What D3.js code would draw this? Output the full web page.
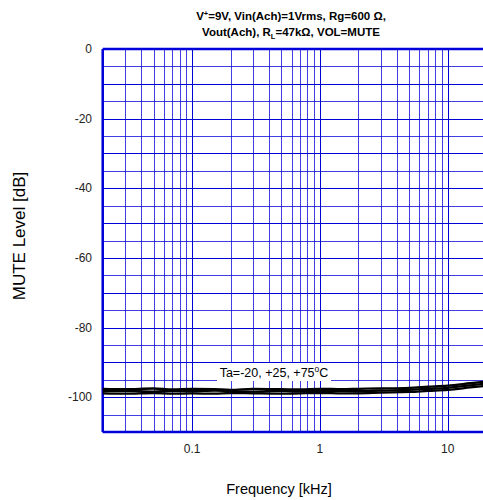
<!DOCTYPE html>
<html><head><meta charset="utf-8">
<script src="https://cdn.jsdelivr.net/npm/d3@7"></script>
<style>body{margin:0;background:#fff;} svg{display:block;font-family:"Liberation Sans",Arial,sans-serif;}</style>
</head><body>
<svg id="c" width="483" height="500"></svg>
<script>
const freqs = [0.02,0.03,0.05,0.07,0.1,0.15,0.2,0.3,0.5,0.7,1,1.5,2,3,5,7,10,15,20];
const seriesTop = [-97.6,-97.7,-97.5,-97.8,-97.6,-97.7,-97.9,-97.6,-97.7,-97.8,-97.6,-97.7,-97.6,-97.5,-97.3,-97.0,-96.7,-96.0,-95.5];
const seriesMid = [-98.3,-98.2,-98.4,-98.2,-98.3,-98.1,-98.3,-98.4,-98.2,-98.3,-98.3,-98.2,-98.3,-98.1,-97.9,-97.6,-97.3,-96.6,-96.1];
const seriesBot = [-98.9,-99.0,-98.8,-99.0,-98.9,-99.0,-98.8,-98.9,-99.0,-98.9,-98.8,-98.9,-98.9,-98.7,-98.5,-98.2,-97.9,-97.2,-96.7];
const yTicks = [0,-20,-40,-60,-80,-100];
const xTicks = [0.1,1,10];
const xTickLabels = ["0.1","1","10"];

const svg = d3.select("#c");
const x = d3.scaleLog().domain([0.02,20]).range([102.7,486.2]);
const y = d3.scaleLinear().domain([-110,0]).range([432,49]);
const blue = "#0000d8";

// vertical grid
const vgrid = [];
[0.01,0.1,1,10].forEach(d=>{ for(let k=1;k<10;k++){ const v=d*k; if(v>=0.02-1e-9 && v<=20+1e-9) vgrid.push(+v.toPrecision(3)); } });
svg.append("g").selectAll("line").data(vgrid).join("line")
  .attr("x1",d=>Math.round(x(d))+0.5).attr("x2",d=>Math.round(x(d))+0.5)
  .attr("y1",y(0)).attr("y2",y(-110))
  .attr("stroke",blue).attr("stroke-width",1).attr("stroke-opacity",d=>[0.1,1,10].includes(d)?1:0.75);
// horizontal grid
const hgrid = d3.range(0,-111,-5);
svg.append("g").selectAll("line").data(hgrid).join("line")
  .attr("x1",x(0.02)).attr("x2",x(20))
  .attr("y1",d=>Math.round(y(d))+0.5).attr("y2",d=>Math.round(y(d))+0.5)
  .attr("stroke",blue).attr("stroke-width",1).attr("stroke-opacity",d=>d%10===0?1:0.75);

// frame
svg.append("line").attr("x1",x(0.02)).attr("x2",x(20)).attr("y1",y(0)).attr("y2",y(0)).attr("stroke",blue).attr("stroke-width",2.5);
svg.append("line").attr("x1",x(0.02)).attr("x2",x(20)).attr("y1",y(-110)).attr("y2",y(-110)).attr("stroke",blue).attr("stroke-width",2.5);
svg.append("line").attr("x1",x(0.02)).attr("x2",x(0.02)).attr("y1",y(0)).attr("y2",y(-110)).attr("stroke",blue).attr("stroke-width",2.5);

// label box
const lbl = svg.append("g");
lbl.append("rect").attr("x",217).attr("y",363).attr("width",114).attr("height",18).attr("fill","#fff");
const lt = lbl.append("text").attr("x",274).attr("y",376.5).attr("text-anchor","middle").attr("font-size",12.5).attr("fill","#000");
lt.append("tspan").text("Ta=-20, +25, +75");
lt.append("tspan").attr("font-size",8.5).attr("dy",-4.5).text("o");
lt.append("tspan").attr("dy",4.5).text("C");

// curves
const line = d3.line().x((d,i)=>x(freqs[i])).y(d=>y(d)).curve(d3.curveMonotoneX);
[seriesTop,seriesMid,seriesBot].forEach(s=>{
  svg.append("path").datum(s).attr("d",line).attr("fill","none").attr("stroke","#000").attr("stroke-width",2.3);
});

// y ticks
svg.append("g").selectAll("text").data(yTicks).join("text")
  .attr("x",92).attr("y",d=>y(d)+4).attr("text-anchor","end").attr("font-size",12).attr("fill","#222").text(d=>d);
// x ticks
svg.append("g").selectAll("text").data(xTicks).join("text")
  .attr("x",d=>x(d)).attr("y",453).attr("text-anchor","middle").attr("font-size",12).attr("fill","#222").text((d,i)=>xTickLabels[i]);

// axis titles
svg.append("text").attr("x",279).attr("y",494).attr("text-anchor","middle").attr("font-size",14.5).attr("fill","#000").text("Frequency [kHz]");
svg.append("text").attr("transform","translate(24.5,236) rotate(-90)").attr("text-anchor","middle").attr("font-size",17).attr("fill","#000").text("MUTE Level [dB]");

// title
const t1 = svg.append("text").attr("x",291).attr("y",20).attr("text-anchor","middle").attr("font-size",11.5).attr("font-weight","bold");
t1.append("tspan").text("V");
t1.append("tspan").attr("font-size",7.5).attr("dy",-4).text("+");
t1.append("tspan").attr("dy",4).text("=9V, Vin(Ach)=1Vrms, Rg=600 Ω,");
const t2 = svg.append("text").attr("x",291).attr("y",36).attr("text-anchor","middle").attr("font-size",11.5).attr("font-weight","bold");
t2.append("tspan").text("Vout(Ach), R");
t2.append("tspan").attr("font-size",7.5).attr("dy",3).text("L");
t2.append("tspan").attr("dy",-3).text("=47kΩ, VOL=MUTE");
</script>
</body></html>
